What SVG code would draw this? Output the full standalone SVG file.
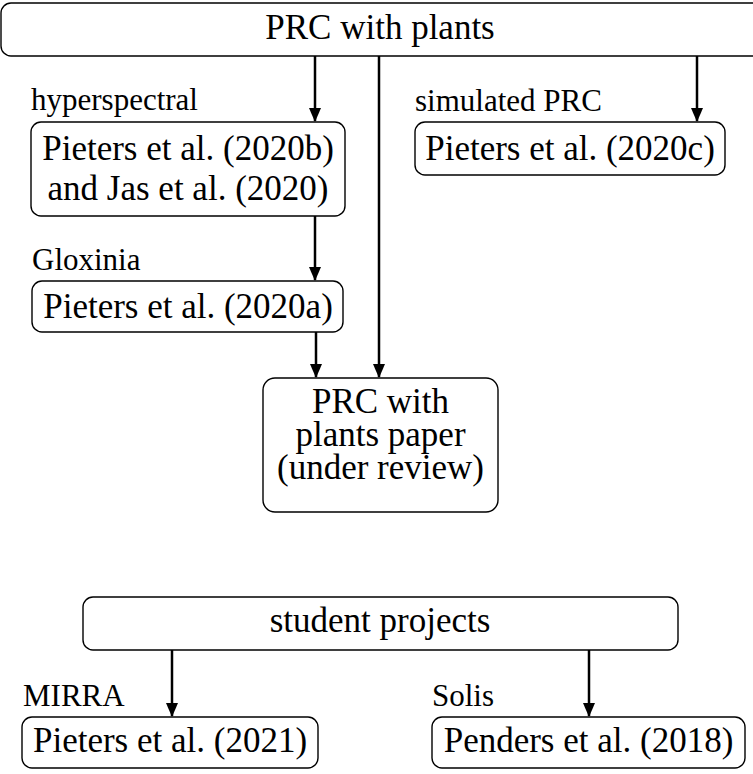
<svg xmlns="http://www.w3.org/2000/svg" width="753" height="774" viewBox="0 0 753 774">
<defs>
<style>
.box{fill:#fff;stroke:#000;stroke-width:1.4}
.t{font-family:"Liberation Serif","Times New Roman",serif;font-size:35px;fill:#000;text-anchor:middle}
.l{font-family:"Liberation Serif","Times New Roman",serif;font-size:31px;fill:#000}
.c{stroke:#000;stroke-width:2.5;fill:none;marker-end:url(#ah)}
</style>
<marker id="ah" markerUnits="userSpaceOnUse" markerWidth="14" markerHeight="16" refX="13" refY="6" orient="auto" viewBox="0 0 14 12">
<path d="M0,0 L14,6 L0,12 Z" fill="#000"/>
</marker>
</defs>
<rect width="753" height="774" fill="#fff"/>
<g id="connectors">
<path class="c" d="M315,56 V121"/>
<path class="c" d="M379,56 V377"/>
<path class="c" d="M697,56 V121"/>
<path class="c" d="M315,216 V280"/>
<path class="c" d="M316,332 V377"/>
<path class="c" d="M172,650 V716"/>
<path class="c" d="M589,650 V716"/>
</g>
<g id="prc-plants">
<rect class="box" x="1" y="3" width="800" height="53" rx="10"/>
<text class="t" x="380" y="39">PRC with plants</text>
</g>
<g id="label-hyperspectral"><text class="l" x="31" y="110">hyperspectral</text></g>
<g id="pieters2020b">
<rect class="box" x="31" y="122" width="314" height="94" rx="10"/>
<text class="t" x="188" y="160">Pieters et al. (2020b)</text>
<text class="t" x="188" y="200">and Jas et al. (2020)</text>
</g>
<g id="label-simulated"><text class="l" x="415" y="111">simulated PRC</text></g>
<g id="pieters2020c">
<rect class="box" x="415" y="122" width="310" height="53" rx="10"/>
<text class="t" x="570" y="160">Pieters et al. (2020c)</text>
</g>
<g id="label-gloxinia"><text class="l" x="32" y="270">Gloxinia</text></g>
<g id="pieters2020a">
<rect class="box" x="32" y="281" width="311" height="51" rx="10"/>
<text class="t" x="188" y="318">Pieters et al. (2020a)</text>
</g>
<g id="prc-paper">
<rect class="box" x="263" y="378" width="235" height="134" rx="12"/>
<text class="t" x="380.5" y="413">PRC with</text>
<text class="t" x="380.5" y="446">plants paper</text>
<text class="t" x="380.5" y="479">(under review)</text>
</g>
<g id="student-projects">
<rect class="box" x="83" y="597" width="595" height="53" rx="10"/>
<text class="t" x="380" y="632">student projects</text>
</g>
<g id="label-mirra"><text class="l" x="23" y="706">MIRRA</text></g>
<g id="pieters2021">
<rect class="box" x="22" y="717" width="296" height="51" rx="10"/>
<text class="t" x="170" y="752">Pieters et al. (2021)</text>
</g>
<g id="label-solis"><text class="l" x="432" y="706">Solis</text></g>
<g id="penders2018">
<rect class="box" x="432" y="717" width="313" height="51" rx="10"/>
<text class="t" x="588.5" y="752">Penders et al. (2018)</text>
</g>
</svg>
